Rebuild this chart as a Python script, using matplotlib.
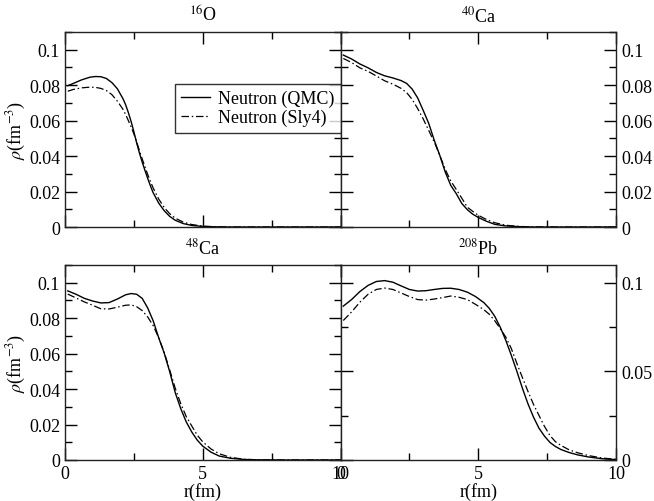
import matplotlib
matplotlib.use("Agg")
import matplotlib.pyplot as plt
from matplotlib.ticker import MultipleLocator, FuncFormatter

plt.rcParams['font.family'] = ['Liberation Serif', 'DejaVu Serif']
plt.rcParams['mathtext.fontset'] = 'stix'
plt.rcParams['font.size'] = 13

# neutron densities, r in fm, rho in fm^-3
r_o16 = [0.1, 0.3, 0.6, 0.9, 1.1, 1.3, 1.5, 1.7, 1.9, 2.1, 2.2, 2.3, 2.4, 2.5,
         2.6, 2.7, 2.8, 2.9, 3.0, 3.1, 3.2, 3.4, 3.6, 3.8, 4.0, 4.3, 4.6, 5.0,
         5.5, 6.0, 7.0, 8.0, 9.0, 10.0]
o16_qmc = [0.0797, 0.081, 0.083, 0.0845, 0.0849, 0.0848, 0.0838, 0.0815, 0.078,
           0.0725, 0.069, 0.0645, 0.0595, 0.0537, 0.0475, 0.0418, 0.0367, 0.032,
           0.0275, 0.0232, 0.0193, 0.0135, 0.0092, 0.006, 0.0038, 0.0019, 0.0009,
           0.0003, 0.0001, 0.0, 0.0, 0.0, 0.0, 0.0]
o16_sly4 = [0.0766, 0.0776, 0.0785, 0.0789, 0.0788, 0.0782, 0.077, 0.0747, 0.071,
            0.0665, 0.0635, 0.06, 0.0565, 0.0525, 0.048, 0.0432, 0.0385, 0.034,
            0.0297, 0.0257, 0.022, 0.0158, 0.011, 0.0075, 0.005, 0.0027, 0.0014,
            0.0005, 0.0001, 0.0, 0.0, 0.0, 0.0, 0.0]

r_ca40 = [0.1, 0.4, 0.7, 1.0, 1.3, 1.6, 1.9, 2.2, 2.4, 2.6, 2.8, 3.0, 3.2, 3.4,
          3.6, 3.8, 4.0, 4.2, 4.4, 4.6, 4.8, 5.0, 5.3, 5.6, 6.0, 6.5, 7.0, 8.0,
          9.0, 10.0]
ca40_qmc = [0.097, 0.0948, 0.092, 0.0898, 0.0872, 0.0853, 0.0841, 0.0826, 0.081,
            0.0778, 0.0728, 0.0658, 0.0585, 0.049, 0.0405, 0.031, 0.0235, 0.0188,
            0.0133, 0.0098, 0.0072, 0.0054, 0.0032, 0.0015, 0.0006, 0.0002, 0.0,
            0.0, 0.0, 0.0]
ca40_sly4 = [0.0951, 0.0928, 0.0898, 0.0878, 0.0852, 0.0825, 0.0806, 0.0782, 0.0758,
             0.072, 0.0668, 0.061, 0.0545, 0.048, 0.0405, 0.0325, 0.026, 0.0212,
             0.0163, 0.0112, 0.0088, 0.0066, 0.0042, 0.0024, 0.001, 0.0003, 0.0001,
             0.0, 0.0, 0.0]

r_ca48 = [0.1, 0.4, 0.7, 1.0, 1.3, 1.6, 1.9, 2.2, 2.4, 2.6, 2.8, 3.0, 3.2, 3.4,
          3.6, 3.8, 4.0, 4.2, 4.4, 4.6, 4.8, 5.0, 5.3, 5.6, 6.0, 6.5, 7.0, 8.0,
          9.0, 10.0]
ca48_qmc = [0.0954, 0.0935, 0.0912, 0.0897, 0.0886, 0.0888, 0.0908, 0.0932, 0.0939,
            0.0935, 0.0912, 0.0858, 0.0785, 0.069, 0.0603, 0.0498, 0.038, 0.029,
            0.0215, 0.0158, 0.0112, 0.0078, 0.0044, 0.0022, 0.001, 0.0003, 0.0001,
            0.0, 0.0, 0.0]
ca48_sly4 = [0.0936, 0.0914, 0.0892, 0.0873, 0.0853, 0.0852, 0.0862, 0.0873, 0.0875,
             0.0865, 0.0843, 0.0807, 0.0758, 0.069, 0.0607, 0.0508, 0.0405, 0.0318,
             0.0245, 0.0192, 0.014, 0.0102, 0.0062, 0.0035, 0.0015, 0.0004, 0.0001,
             0.0, 0.0, 0.0]

r_pb208 = [0.1, 0.4, 0.7, 1.0, 1.3, 1.6, 1.9, 2.2, 2.5, 2.8, 3.1, 3.4, 3.7, 4.0,
           4.3, 4.6, 4.9, 5.2, 5.4, 5.6, 5.8, 6.0, 6.2, 6.4, 6.6, 6.8, 7.0, 7.2,
           7.4, 7.6, 7.8, 8.0, 8.3, 8.6, 9.0, 9.5, 10.0]
pb208_qmc = [0.0868, 0.0905, 0.095, 0.0985, 0.1007, 0.1012, 0.1003, 0.0982, 0.0962,
             0.0953, 0.0955, 0.0962, 0.0968, 0.0969, 0.0962, 0.0947, 0.0922, 0.0888,
             0.0855, 0.081, 0.0748, 0.0674, 0.059, 0.050, 0.0405, 0.0318, 0.0243,
             0.018, 0.0135, 0.0099, 0.0076, 0.0059, 0.0042, 0.0029, 0.0017, 0.0007,
             0.0002]
pb208_sly4 = [0.0787, 0.0835, 0.089, 0.0935, 0.0962, 0.097, 0.0962, 0.0942, 0.0922,
              0.0905, 0.0902, 0.0908, 0.0916, 0.0925, 0.0918, 0.0905, 0.0878, 0.0848,
              0.0822, 0.0785, 0.074, 0.0693, 0.0628, 0.0545, 0.0465, 0.0388, 0.0315,
              0.0252, 0.019, 0.0138, 0.0103, 0.0082, 0.0057, 0.0041, 0.0025, 0.0011,
              0.0004]

titles = [r'$^{16}$O', r'$^{40}$Ca', r'$^{48}$Ca', r'$^{208}$Pb']
panels = [(r_o16, o16_qmc, o16_sly4), (r_ca40, ca40_qmc, ca40_sly4),
          (r_ca48, ca48_qmc, ca48_sly4), (r_pb208, pb208_qmc, pb208_sly4)]

fig = plt.figure(figsize=(6.54, 5.02), dpi=100)
w = 0.4213
h = 0.3884
boxes = [(0.0994, 0.5458), (0.0994 + w, 0.5458),
         (0.0994, 0.0817), (0.0994 + w, 0.0817)]

dashdot = (0, (6, 2.2, 1.2, 2.2))
fmt = FuncFormatter(lambda v, p: '%g' % round(v, 4))

for i, ((x0, y0), (r, qmc, sly)) in enumerate(zip(boxes, panels)):
    ax = fig.add_axes([x0, y0, w, h])
    ax.plot(r, qmc, color='black', lw=1.0, label='Neutron (QMC)')
    ax.plot(r, sly, color='black', lw=0.9, linestyle=dashdot, label='Neutron (Sly4)')
    ax.set_xlim(0, 10)
    ax.set_ylim(0, 0.11)
    ax.xaxis.set_major_locator(MultipleLocator(5))
    ax.xaxis.set_minor_locator(MultipleLocator(2.5))
    if i == 3:
        ax.yaxis.set_major_locator(MultipleLocator(0.05))
        ax.yaxis.set_minor_locator(MultipleLocator(0.025))
    else:
        ax.yaxis.set_major_locator(MultipleLocator(0.02))
        ax.yaxis.set_minor_locator(MultipleLocator(0.01))
    ax.yaxis.set_major_formatter(fmt)
    ax.xaxis.set_major_formatter(fmt)
    ax.tick_params(which='both', direction='in', top=True, bottom=True,
                   left=True, right=True, width=1.0, labelsize=13)
    ax.tick_params(which='major', length=8.5, pad=3.5)
    ax.tick_params(which='minor', length=5)
    right = i % 2 == 1
    ax.tick_params(labelleft=not right, labelright=right, labelbottom=i >= 2)
    for s in ax.spines.values():
        s.set_linewidth(1.0)
        s.set_color('#222222')
    ax.set_title(titles[i], fontsize=13, pad=8)
    if not right:
        ax.set_ylabel(r'$\rho$(fm$^{-3}$)', fontsize=13, labelpad=1)
    if i >= 2:
        ax.set_xlabel('r(fm)', fontsize=13, labelpad=0)
    if i == 0:
        leg = ax.legend(loc='upper right', bbox_to_anchor=(1.0, 0.735),
                        fontsize=13, frameon=True, fancybox=False,
                        handlelength=1.6, handletextpad=0.45, labelspacing=0.1,
                        borderpad=0.35, borderaxespad=0)
        leg.get_frame().set_edgecolor('black')
        leg.get_frame().set_linewidth(1.0)

fig.savefig('out.png', dpi=100)
